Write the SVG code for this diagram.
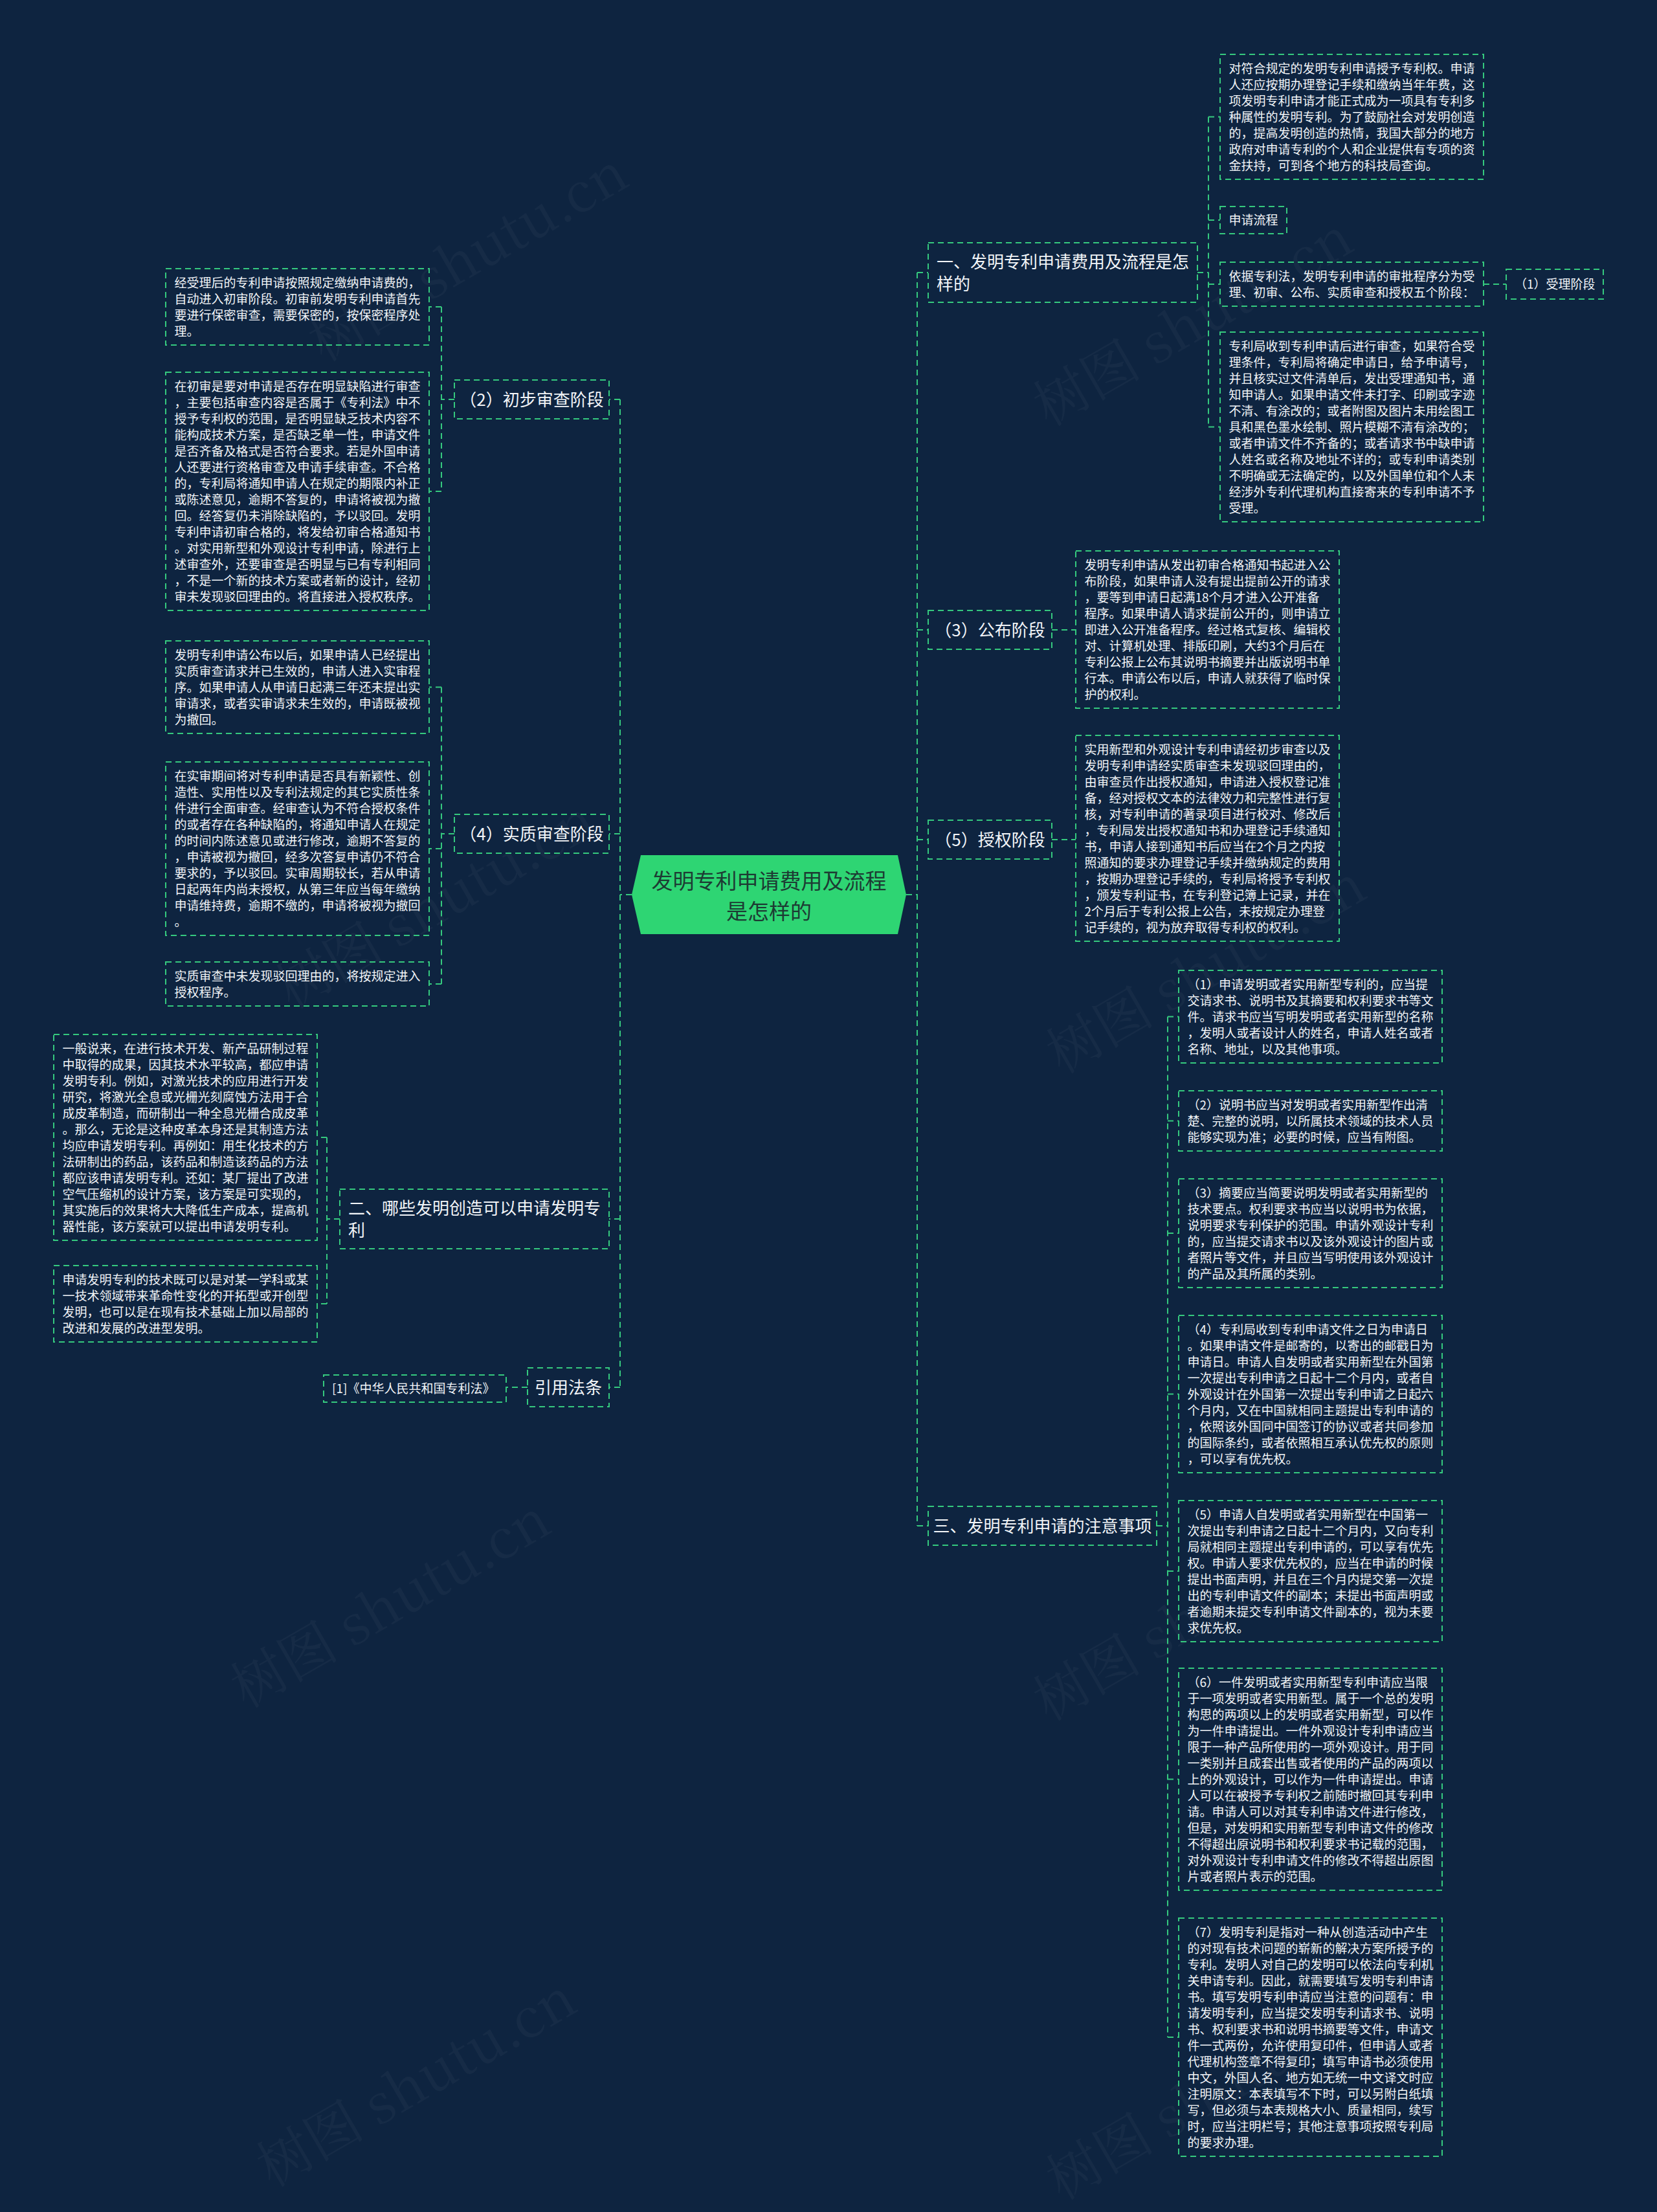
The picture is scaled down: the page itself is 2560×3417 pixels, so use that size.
<svg xmlns="http://www.w3.org/2000/svg" width="2560" height="3417" viewBox="0 0 2560 3417">
<style>
.bg{fill:#0e2440}
.bx{fill:none;stroke:#35c97e;stroke-width:2;stroke-dasharray:9 6}
.lf{font-family:"Noto Sans CJK SC","Noto Sans",sans-serif;font-size:19px;fill:#f2f5f8}
.br{font-family:"Noto Sans CJK SC","Noto Sans",sans-serif;font-size:26px;fill:#f2f5f8}
.ct{font-family:"Noto Sans CJK SC","Noto Sans",sans-serif;font-size:33px;fill:#1d3b33}
.cn path{fill:none;stroke:#35c97e;stroke-width:2;stroke-dasharray:9 6}
.wm{font-family:"Noto Serif CJK SC","Noto Sans CJK SC","Liberation Serif",serif;font-size:84px;fill:#ffffff;fill-opacity:0.035}
</style>
<rect class="bg" x="0" y="0" width="2560" height="3417"/>
<g id="watermarks">
<text class="wm" transform="translate(500,560) rotate(-30)">树图 shutu.cn</text>
<text class="wm" transform="translate(1620,660) rotate(-30)">树图 shutu.cn</text>
<text class="wm" transform="translate(450,1560) rotate(-30)">树图 shutu.cn</text>
<text class="wm" transform="translate(1640,1660) rotate(-30)">树图 shutu.cn</text>
<text class="wm" transform="translate(380,2640) rotate(-30)">树图 shutu.cn</text>
<text class="wm" transform="translate(1620,2660) rotate(-30)">树图 shutu.cn</text>
<text class="wm" transform="translate(420,3380) rotate(-30)">树图 shutu.cn</text>
<text class="wm" transform="translate(1640,3400) rotate(-30)">树图 shutu.cn</text>
</g>
<g class="cn" id="connectors">
<path d="M976 1382H958M958 617V2143M958 617H941M958 1288H941M958 1883H941M958 2143H941"/>
<path d="M1400 1382H1417M1417 421V2357M1417 421H1434M1417 973H1434M1417 1297H1434M1417 2357H1434"/>
<path d="M1850 421H1867M1867 180.5V659.5M1867 180.5H1885M1867 340H1885M1867 439H1885M1867 659.5H1885"/>
<path d="M2292 439H2327"/>
<path d="M1625 973H1662M1625 1297H1662"/>
<path d="M1787 2357H1804M1804 1570.5V3147M1804 1570.5H1821M1804 1731.5H1821M1804 1905H1821M1804 2153.5H1821M1804 2427H1821M1804 2748.5H1821M1804 3147H1821"/>
<path d="M702 617H682M682 474V759M682 474H663M682 759H663"/>
<path d="M702 1288H682M682 1061.5V1520M682 1061.5H663M682 1311H663M682 1520H663"/>
<path d="M525 1883H505M505 1757V2014M505 1757H490M505 2014H490"/>
<path d="M815 2143H782"/>
</g>
<g id="center">
<polygon points="976,1382 990,1321 1387,1321 1400,1382 1387,1443 990,1443" fill="#2ed573"/>
<text class="ct" x="1188" y="1372.5" text-anchor="middle">发明专利申请费用及流程</text>
<text class="ct" x="1188" y="1419.5" text-anchor="middle">是怎样的</text>
</g>
<g id="b-r1">
<rect class="bx" x="1434" y="375" width="416" height="92"/>
<text class="br" x="1447" y="414">一、发明专利申请费用及流程是怎</text>
<text class="br" x="1447" y="448">样的</text>
</g>
<g id="leaf-a">
<rect class="bx" x="1885" y="84" width="407" height="193"/>
<text class="lf" x="1898.5" y="112.5"><tspan x="1898.5">对符合规定的发明专利申请授予专利权。申请</tspan><tspan x="1898.5" dy="25">人还应按期办理登记手续和缴纳当年年费，这</tspan><tspan x="1898.5" dy="25">项发明专利申请才能正式成为一项具有专利多</tspan><tspan x="1898.5" dy="25">种属性的发明专利。为了鼓励社会对发明创造</tspan><tspan x="1898.5" dy="25">的，提高发明创造的热情，我国大部分的地方</tspan><tspan x="1898.5" dy="25">政府对申请专利的个人和企业提供有专项的资</tspan><tspan x="1898.5" dy="25">金扶持，可到各个地方的科技局查询。</tspan></text>
</g>
<g id="leaf-b">
<rect class="bx" x="1885" y="319" width="103" height="42"/>
<text class="lf" x="1898.5" y="347">申请流程</text>
</g>
<g id="leaf-c">
<rect class="bx" x="1885" y="405" width="407" height="68"/>
<text class="lf" x="1898.5" y="433.5"><tspan x="1898.5">依据专利法，发明专利申请的审批程序分为受</tspan><tspan x="1898.5" dy="25">理、初审、公布、实质审查和授权五个阶段：</tspan></text>
</g>
<g id="leaf-accept">
<rect class="bx" x="2327" y="416" width="150" height="46"/>
<text class="lf" x="2340" y="446">（1）受理阶段</text>
</g>
<g id="leaf-d">
<rect class="bx" x="1885" y="513" width="407" height="293"/>
<text class="lf" x="1898.5" y="541.5"><tspan x="1898.5">专利局收到专利申请后进行审查，如果符合受</tspan><tspan x="1898.5" dy="25">理条件，专利局将确定申请日，给予申请号，</tspan><tspan x="1898.5" dy="25">并且核实过文件清单后，发出受理通知书，通</tspan><tspan x="1898.5" dy="25">知申请人。如果申请文件未打字、印刷或字迹</tspan><tspan x="1898.5" dy="25">不清、有涂改的；或者附图及图片未用绘图工</tspan><tspan x="1898.5" dy="25">具和黑色墨水绘制、照片模糊不清有涂改的；</tspan><tspan x="1898.5" dy="25">或者申请文件不齐备的；或者请求书中缺申请</tspan><tspan x="1898.5" dy="25">人姓名或名称及地址不详的；或专利申请类别</tspan><tspan x="1898.5" dy="25">不明确或无法确定的，以及外国单位和个人未</tspan><tspan x="1898.5" dy="25">经涉外专利代理机构直接寄来的专利申请不予</tspan><tspan x="1898.5" dy="25">受理。</tspan></text>
</g>
<g id="b-r2">
<rect class="bx" x="1434" y="943" width="191" height="60"/>
<text class="br" x="1529.5" y="983" text-anchor="middle">（3）公布阶段</text>
</g>
<g id="leaf-r2">
<rect class="bx" x="1662" y="851" width="407" height="243"/>
<text class="lf" x="1675.5" y="879.5"><tspan x="1675.5">发明专利申请从发出初审合格通知书起进入公</tspan><tspan x="1675.5" dy="25">布阶段，如果申请人没有提出提前公开的请求</tspan><tspan x="1675.5" dy="25">，要等到申请日起满18个月才进入公开准备</tspan><tspan x="1675.5" dy="25">程序。如果申请人请求提前公开的，则申请立</tspan><tspan x="1675.5" dy="25">即进入公开准备程序。经过格式复核、编辑校</tspan><tspan x="1675.5" dy="25">对、计算机处理、排版印刷，大约3个月后在</tspan><tspan x="1675.5" dy="25">专利公报上公布其说明书摘要并出版说明书单</tspan><tspan x="1675.5" dy="25">行本。申请公布以后，申请人就获得了临时保</tspan><tspan x="1675.5" dy="25">护的权利。</tspan></text>
</g>
<g id="b-r3">
<rect class="bx" x="1434" y="1267" width="191" height="60"/>
<text class="br" x="1529.5" y="1307" text-anchor="middle">（5）授权阶段</text>
</g>
<g id="leaf-r3">
<rect class="bx" x="1662" y="1136" width="407" height="318"/>
<text class="lf" x="1675.5" y="1164.5"><tspan x="1675.5">实用新型和外观设计专利申请经初步审查以及</tspan><tspan x="1675.5" dy="25">发明专利申请经实质审查未发现驳回理由的，</tspan><tspan x="1675.5" dy="25">由审查员作出授权通知，申请进入授权登记准</tspan><tspan x="1675.5" dy="25">备，经对授权文本的法律效力和完整性进行复</tspan><tspan x="1675.5" dy="25">核，对专利申请的著录项目进行校对、修改后</tspan><tspan x="1675.5" dy="25">，专利局发出授权通知书和办理登记手续通知</tspan><tspan x="1675.5" dy="25">书，申请人接到通知书后应当在2个月之内按</tspan><tspan x="1675.5" dy="25">照通知的要求办理登记手续并缴纳规定的费用</tspan><tspan x="1675.5" dy="25">，按期办理登记手续的，专利局将授予专利权</tspan><tspan x="1675.5" dy="25">，颁发专利证书，在专利登记簿上记录，并在</tspan><tspan x="1675.5" dy="25">2个月后于专利公报上公告，未按规定办理登</tspan><tspan x="1675.5" dy="25">记手续的，视为放弃取得专利权的权利。</tspan></text>
</g>
<g id="b-r4">
<rect class="bx" x="1434" y="2327" width="353" height="60"/>
<text class="br" x="1610.5" y="2367" text-anchor="middle">三、发明专利申请的注意事项</text>
</g>
<g id="leaf-n1">
<rect class="bx" x="1821" y="1499" width="407" height="143"/>
<text class="lf" x="1834.5" y="1527.5"><tspan x="1834.5">（1）申请发明或者实用新型专利的，应当提</tspan><tspan x="1834.5" dy="25">交请求书、说明书及其摘要和权利要求书等文</tspan><tspan x="1834.5" dy="25">件。请求书应当写明发明或者实用新型的名称</tspan><tspan x="1834.5" dy="25">，发明人或者设计人的姓名，申请人姓名或者</tspan><tspan x="1834.5" dy="25">名称、地址，以及其他事项。</tspan></text>
</g>
<g id="leaf-n2">
<rect class="bx" x="1821" y="1685" width="407" height="93"/>
<text class="lf" x="1834.5" y="1713.5"><tspan x="1834.5">（2）说明书应当对发明或者实用新型作出清</tspan><tspan x="1834.5" dy="25">楚、完整的说明，以所属技术领域的技术人员</tspan><tspan x="1834.5" dy="25">能够实现为准；必要的时候，应当有附图。</tspan></text>
</g>
<g id="leaf-n3">
<rect class="bx" x="1821" y="1821" width="407" height="168"/>
<text class="lf" x="1834.5" y="1849.5"><tspan x="1834.5">（3）摘要应当简要说明发明或者实用新型的</tspan><tspan x="1834.5" dy="25">技术要点。权利要求书应当以说明书为依据，</tspan><tspan x="1834.5" dy="25">说明要求专利保护的范围。申请外观设计专利</tspan><tspan x="1834.5" dy="25">的，应当提交请求书以及该外观设计的图片或</tspan><tspan x="1834.5" dy="25">者照片等文件，并且应当写明使用该外观设计</tspan><tspan x="1834.5" dy="25">的产品及其所属的类别。</tspan></text>
</g>
<g id="leaf-n4">
<rect class="bx" x="1821" y="2032" width="407" height="243"/>
<text class="lf" x="1834.5" y="2060.5"><tspan x="1834.5">（4）专利局收到专利申请文件之日为申请日</tspan><tspan x="1834.5" dy="25">。如果申请文件是邮寄的，以寄出的邮戳日为</tspan><tspan x="1834.5" dy="25">申请日。申请人自发明或者实用新型在外国第</tspan><tspan x="1834.5" dy="25">一次提出专利申请之日起十二个月内，或者自</tspan><tspan x="1834.5" dy="25">外观设计在外国第一次提出专利申请之日起六</tspan><tspan x="1834.5" dy="25">个月内，又在中国就相同主题提出专利申请的</tspan><tspan x="1834.5" dy="25">，依照该外国同中国签订的协议或者共同参加</tspan><tspan x="1834.5" dy="25">的国际条约，或者依照相互承认优先权的原则</tspan><tspan x="1834.5" dy="25">，可以享有优先权。</tspan></text>
</g>
<g id="leaf-n5">
<rect class="bx" x="1821" y="2318" width="407" height="218"/>
<text class="lf" x="1834.5" y="2346.5"><tspan x="1834.5">（5）申请人自发明或者实用新型在中国第一</tspan><tspan x="1834.5" dy="25">次提出专利申请之日起十二个月内，又向专利</tspan><tspan x="1834.5" dy="25">局就相同主题提出专利申请的，可以享有优先</tspan><tspan x="1834.5" dy="25">权。申请人要求优先权的，应当在申请的时候</tspan><tspan x="1834.5" dy="25">提出书面声明，并且在三个月内提交第一次提</tspan><tspan x="1834.5" dy="25">出的专利申请文件的副本；未提出书面声明或</tspan><tspan x="1834.5" dy="25">者逾期未提交专利申请文件副本的，视为未要</tspan><tspan x="1834.5" dy="25">求优先权。</tspan></text>
</g>
<g id="leaf-n6">
<rect class="bx" x="1821" y="2577" width="407" height="343"/>
<text class="lf" x="1834.5" y="2605.5"><tspan x="1834.5">（6）一件发明或者实用新型专利申请应当限</tspan><tspan x="1834.5" dy="25">于一项发明或者实用新型。属于一个总的发明</tspan><tspan x="1834.5" dy="25">构思的两项以上的发明或者实用新型，可以作</tspan><tspan x="1834.5" dy="25">为一件申请提出。一件外观设计专利申请应当</tspan><tspan x="1834.5" dy="25">限于一种产品所使用的一项外观设计。用于同</tspan><tspan x="1834.5" dy="25">一类别并且成套出售或者使用的产品的两项以</tspan><tspan x="1834.5" dy="25">上的外观设计，可以作为一件申请提出。申请</tspan><tspan x="1834.5" dy="25">人可以在被授予专利权之前随时撤回其专利申</tspan><tspan x="1834.5" dy="25">请。申请人可以对其专利申请文件进行修改，</tspan><tspan x="1834.5" dy="25">但是，对发明和实用新型专利申请文件的修改</tspan><tspan x="1834.5" dy="25">不得超出原说明书和权利要求书记载的范围，</tspan><tspan x="1834.5" dy="25">对外观设计专利申请文件的修改不得超出原图</tspan><tspan x="1834.5" dy="25">片或者照片表示的范围。</tspan></text>
</g>
<g id="leaf-n7">
<rect class="bx" x="1821" y="2963" width="407" height="368"/>
<text class="lf" x="1834.5" y="2991.5"><tspan x="1834.5">（7）发明专利是指对一种从创造活动中产生</tspan><tspan x="1834.5" dy="25">的对现有技术问题的崭新的解决方案所授予的</tspan><tspan x="1834.5" dy="25">专利。发明人对自己的发明可以依法向专利机</tspan><tspan x="1834.5" dy="25">关申请专利。因此，就需要填写发明专利申请</tspan><tspan x="1834.5" dy="25">书。填写发明专利申请应当注意的问题有：申</tspan><tspan x="1834.5" dy="25">请发明专利，应当提交发明专利请求书、说明</tspan><tspan x="1834.5" dy="25">书、权利要求书和说明书摘要等文件，申请文</tspan><tspan x="1834.5" dy="25">件一式两份，允许使用复印件，但申请人或者</tspan><tspan x="1834.5" dy="25">代理机构签章不得复印；填写申请书必须使用</tspan><tspan x="1834.5" dy="25">中文，外国人名、地方如无统一中文译文时应</tspan><tspan x="1834.5" dy="25">注明原文：本表填写不下时，可以另附白纸填</tspan><tspan x="1834.5" dy="25">写，但必须与本表规格大小、质量相同，续写</tspan><tspan x="1834.5" dy="25">时，应当注明栏号；其他注意事项按照专利局</tspan><tspan x="1834.5" dy="25">的要求办理。</tspan></text>
</g>
<g id="b-l1">
<rect class="bx" x="702" y="587" width="239" height="60"/>
<text class="br" x="821.5" y="627" text-anchor="middle">（2）初步审查阶段</text>
</g>
<g id="leaf-l1a">
<rect class="bx" x="256" y="415" width="407" height="118"/>
<text class="lf" x="269.5" y="443.5"><tspan x="269.5">经受理后的专利申请按照规定缴纳申请费的，</tspan><tspan x="269.5" dy="25">自动进入初审阶段。初审前发明专利申请首先</tspan><tspan x="269.5" dy="25">要进行保密审查，需要保密的，按保密程序处</tspan><tspan x="269.5" dy="25">理。</tspan></text>
</g>
<g id="leaf-l1b">
<rect class="bx" x="256" y="575" width="407" height="368"/>
<text class="lf" x="269.5" y="603.5"><tspan x="269.5">在初审是要对申请是否存在明显缺陷进行审查</tspan><tspan x="269.5" dy="25">，主要包括审查内容是否属于《专利法》中不</tspan><tspan x="269.5" dy="25">授予专利权的范围，是否明显缺乏技术内容不</tspan><tspan x="269.5" dy="25">能构成技术方案，是否缺乏单一性，申请文件</tspan><tspan x="269.5" dy="25">是否齐备及格式是否符合要求。若是外国申请</tspan><tspan x="269.5" dy="25">人还要进行资格审查及申请手续审查。不合格</tspan><tspan x="269.5" dy="25">的，专利局将通知申请人在规定的期限内补正</tspan><tspan x="269.5" dy="25">或陈述意见，逾期不答复的，申请将被视为撤</tspan><tspan x="269.5" dy="25">回。经答复仍未消除缺陷的，予以驳回。发明</tspan><tspan x="269.5" dy="25">专利申请初审合格的，将发给初审合格通知书</tspan><tspan x="269.5" dy="25">。对实用新型和外观设计专利申请，除进行上</tspan><tspan x="269.5" dy="25">述审查外，还要审查是否明显与已有专利相同</tspan><tspan x="269.5" dy="25">，不是一个新的技术方案或者新的设计，经初</tspan><tspan x="269.5" dy="25">审未发现驳回理由的。将直接进入授权秩序。</tspan></text>
</g>
<g id="b-l2">
<rect class="bx" x="702" y="1258" width="239" height="60"/>
<text class="br" x="821.5" y="1298" text-anchor="middle">（4）实质审查阶段</text>
</g>
<g id="leaf-l2a">
<rect class="bx" x="256" y="990" width="407" height="143"/>
<text class="lf" x="269.5" y="1018.5"><tspan x="269.5">发明专利申请公布以后，如果申请人已经提出</tspan><tspan x="269.5" dy="25">实质审查请求并已生效的，申请人进入实审程</tspan><tspan x="269.5" dy="25">序。如果申请人从申请日起满三年还未提出实</tspan><tspan x="269.5" dy="25">审请求，或者实审请求未生效的，申请既被视</tspan><tspan x="269.5" dy="25">为撤回。</tspan></text>
</g>
<g id="leaf-l2b">
<rect class="bx" x="256" y="1177" width="407" height="268"/>
<text class="lf" x="269.5" y="1205.5"><tspan x="269.5">在实审期间将对专利申请是否具有新颖性、创</tspan><tspan x="269.5" dy="25">造性、实用性以及专利法规定的其它实质性条</tspan><tspan x="269.5" dy="25">件进行全面审查。经审查认为不符合授权条件</tspan><tspan x="269.5" dy="25">的或者存在各种缺陷的，将通知申请人在规定</tspan><tspan x="269.5" dy="25">的时间内陈述意见或进行修改，逾期不答复的</tspan><tspan x="269.5" dy="25">，申请被视为撤回，经多次答复申请仍不符合</tspan><tspan x="269.5" dy="25">要求的，予以驳回。实审周期较长，若从申请</tspan><tspan x="269.5" dy="25">日起两年内尚未授权，从第三年应当每年缴纳</tspan><tspan x="269.5" dy="25">申请维持费，逾期不缴的，申请将被视为撤回</tspan><tspan x="269.5" dy="25">。</tspan></text>
</g>
<g id="leaf-l2c">
<rect class="bx" x="256" y="1486" width="407" height="68"/>
<text class="lf" x="269.5" y="1514.5"><tspan x="269.5">实质审查中未发现驳回理由的，将按规定进入</tspan><tspan x="269.5" dy="25">授权程序。</tspan></text>
</g>
<g id="b-l3">
<rect class="bx" x="525" y="1837" width="416" height="92"/>
<text class="br" x="538" y="1876">二、哪些发明创造可以申请发明专</text>
<text class="br" x="538" y="1910">利</text>
</g>
<g id="leaf-l3a">
<rect class="bx" x="83" y="1598" width="407" height="318"/>
<text class="lf" x="96.5" y="1626.5"><tspan x="96.5">一般说来，在进行技术开发、新产品研制过程</tspan><tspan x="96.5" dy="25">中取得的成果，因其技术水平较高，都应申请</tspan><tspan x="96.5" dy="25">发明专利。例如，对激光技术的应用进行开发</tspan><tspan x="96.5" dy="25">研究，将激光全息或光栅光刻腐蚀方法用于合</tspan><tspan x="96.5" dy="25">成皮革制造，而研制出一种全息光栅合成皮革</tspan><tspan x="96.5" dy="25">。那么，无论是这种皮革本身还是其制造方法</tspan><tspan x="96.5" dy="25">均应申请发明专利。再例如：用生化技术的方</tspan><tspan x="96.5" dy="25">法研制出的药品，该药品和制造该药品的方法</tspan><tspan x="96.5" dy="25">都应该申请发明专利。还如：某厂提出了改进</tspan><tspan x="96.5" dy="25">空气压缩机的设计方案，该方案是可实现的，</tspan><tspan x="96.5" dy="25">其实施后的效果将大大降低生产成本，提高机</tspan><tspan x="96.5" dy="25">器性能，该方案就可以提出申请发明专利。</tspan></text>
</g>
<g id="leaf-l3b">
<rect class="bx" x="83" y="1955" width="407" height="118"/>
<text class="lf" x="96.5" y="1983.5"><tspan x="96.5">申请发明专利的技术既可以是对某一学科或某</tspan><tspan x="96.5" dy="25">一技术领域带来革命性变化的开拓型或开创型</tspan><tspan x="96.5" dy="25">发明，也可以是在现有技术基础上加以局部的</tspan><tspan x="96.5" dy="25">改进和发展的改进型发明。</tspan></text>
</g>
<g id="b-l4">
<rect class="bx" x="815" y="2113" width="126" height="60"/>
<text class="br" x="878" y="2153" text-anchor="middle">引用法条</text>
</g>
<g id="leaf-l4">
<rect class="bx" x="500" y="2124" width="282" height="42"/>
<text class="lf" x="513" y="2152">[1]《中华人民共和国专利法》</text>
</g>
</svg>
